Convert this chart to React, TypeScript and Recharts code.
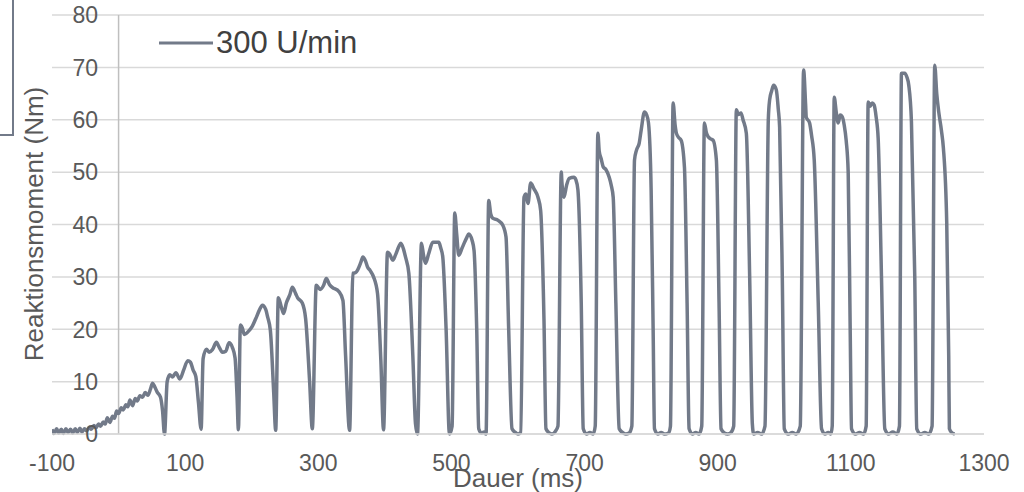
import React from "react";
import {
  LineChart,
  Line,
  XAxis,
  YAxis,
  CartesianGrid,
  ReferenceLine,
  Legend,
} from "recharts";

// Zeitachse (ms) und Reaktionsmoment (Nm), eine Zeile pro Impuls
const zeitMs = [
  -100, -97, -93, -90, -86, -83, -79, -76, -72, -69, -65, -62, -58, -55, -51, -48, -44, -41, -37, -34,
  -30, -27, -23, -20, -17, -13, -9, -6, -3, 0, 4, 7, 11, 14, 17, 21, 25, 28, 32, 36, 40, 44, 48, 51, 54, 58, 63, 66, 69,
  73, 77, 81, 86, 92, 98, 104, 108, 112, 116, 120, 124,
  127, 132, 136, 141, 147, 151, 156, 161, 166, 171, 175, 178, 180,
  183, 186, 189, 195, 201, 206, 212, 216, 221, 224, 228, 233, 236,
  240, 245, 248, 252, 257, 261, 266, 269, 276, 281, 287, 291,
  297, 300, 303, 308, 312, 317, 321, 331, 337, 341, 347,
  352, 356, 359, 364, 367, 371, 374, 378, 383, 389, 394, 398,
  404, 407, 412, 416, 421, 424, 428, 431, 436, 442, 446, 449,
  455, 458, 461, 466, 472, 481, 484, 487, 492, 497,
  501, 505, 508, 511, 516, 519, 523, 526, 531, 534, 538, 541, 545, 549, 552,
  556, 559, 562, 570, 577, 582, 586, 591, 596, 600, 604,
  609, 612, 615, 619, 624, 630, 634, 639, 642, 647, 651, 656, 660,
  665, 666, 669, 673, 677, 684, 687, 690, 695, 698, 703, 708, 713, 716,
  720, 722, 725, 728, 732, 737, 740, 743, 747, 752, 757, 762, 767, 771,
  775, 778, 782, 785, 790, 793, 796, 800, 803, 805, 810, 815, 820, 826, 829,
  833, 836, 838, 842, 845, 850, 854, 857, 862, 867, 872, 876,
  880, 883, 886, 890, 893, 898, 902, 905, 910, 915, 920, 924,
  928, 931, 935, 938, 943, 948, 952, 954, 960, 966, 971,
  976, 978, 981, 984, 988, 991, 993, 997, 1000, 1006, 1012, 1018, 1024,
  1029, 1032, 1033, 1038, 1041, 1045, 1051, 1056, 1061, 1066, 1070, 1072,
  1075, 1078, 1081, 1084, 1087, 1090, 1093, 1096, 1099, 1101, 1107, 1113, 1119, 1123,
  1126, 1129, 1132, 1135, 1138, 1141, 1146, 1151, 1157, 1163, 1169, 1173,
  1176, 1181, 1184, 1187, 1191, 1196, 1199, 1205, 1211, 1217, 1222,
  1226, 1229, 1232, 1236, 1239, 1244, 1247, 1248, 1252, 1256,
];

const momentNm = [
  0.9, 0.1, 1.0, 0.2, 0.9, 0.1, 1.0, 0.3, 0.9, 0.2, 1.0, 0.3, 1.1, 0.4, 1.0, 0.6, 1.3, 0.9, 1.6, 1.2,
  1.9, 1.5, 2.3, 1.9, 3.1, 2.2, 3.4, 3.0, 4.4, 3.9, 5.0, 4.6, 5.6, 5.2, 6.5, 5.4, 6.8, 6.3, 7.3, 7.0, 7.9, 7.4, 8.6, 9.7, 9.1, 8.0, 7.0, 4.5, 0,
  10.0, 11.3, 10.9, 11.7, 10.5, 12.3, 14.0, 13.7, 12.2, 11.0, 6.0, 0.9,
  14.4, 16.2, 15.6, 16.1, 17.5, 16.6, 15.6, 15.8, 17.4, 16.5, 14.5, 7.0, 0.8,
  20.8, 20.2, 19.0, 19.6, 20.6, 22.0, 23.8, 24.6, 23.8, 22.3, 19.8, 8.0, 0.7,
  26.0, 24.0, 23.0, 25.0, 26.5, 28.0, 26.8, 26.0, 25.0, 22.0, 10.0, 1.0,
  28.4, 28.0, 27.6, 28.4, 29.7, 28.5, 28.0, 27.2, 25.5, 15.0, 0.7,
  30.7, 30.8, 31.3, 32.8, 33.8, 33.0, 31.9, 31.2, 30.0, 26.8, 14.0, 0.8,
  34.7, 34.4, 33.2, 34.2, 35.8, 36.4, 35.3, 33.8, 30.7, 15.0, 2.0, 0.0,
  36.4, 34.2, 32.6, 34.5, 36.6, 36.6, 35.5, 33.8, 20.0, 0.0,
  1.5, 42.2, 38.0, 34.1, 35.5, 36.4, 37.5, 38.2, 37.0, 35.0, 20.0, 1.0, 0.2, 0.4, 0.0,
  44.6, 42.0, 41.2, 40.8, 39.9, 37.6, 20.0, 1.0, 0.3, 0.0, 0.3,
  45.2, 45.8, 44.0, 47.9, 46.8, 45.2, 42.7, 22.0, 1.0, 0.2, 0.0, 0.5, 1.5,
  50.0, 48.0, 45.2, 47.5, 48.8, 49.0, 48.5, 46.6, 25.0, 1.0, 0.0, 0.3, 0.0, 1.5,
  57.4, 54.0, 52.5, 51.0, 50.5, 49.0, 47.5, 45.2, 25.0, 1.0, 0.3, 0.0, 0.2, 1.5,
  52.3, 54.2, 55.5, 58.0, 61.5, 61.0, 59.4, 46.6, 20.0, 1.0, 0.0, 0.3, 0.0, 0.2, 1.5,
  63.2, 59.0, 57.4, 56.5, 56.1, 51.0, 25.0, 1.0, 0.0, 0.3, 0.0, 1.5,
  59.4, 57.5, 56.7, 56.3, 56.1, 52.3, 25.0, 1.0, 0.2, 0.0, 0.3, 1.5,
  61.9, 61.0, 61.3, 60.0, 57.4, 30.0, 2.0, 0.0, 0.3, 0.0, 1.5,
  60.0, 63.8, 65.5, 66.6, 65.7, 62.0, 58.6, 30.0, 1.0, 0.0, 0.3, 0.0, 1.5,
  69.5, 63.0, 60.5, 59.4, 57.0, 52.3, 25.0, 1.0, 0.0, 0.3, 0.0, 1.5,
  64.3, 61.5, 59.4, 60.9, 60.6, 59.0, 56.0, 50.0, 20.0, 1.0, 0.0, 0.3, 0.0, 1.5,
  63.4, 62.6, 63.2, 62.8, 60.5, 56.5, 30.0, 1.0, 0.0, 0.4, 0.0, 1.5,
  68.9, 68.9, 68.2, 66.6, 59.6, 30.0, 1.0, 0.0, 0.3, 0.0, 1.5,
  70.4, 65.0, 61.5, 58.0, 54.6, 40.4, 15.0, 1.0, 0.2, 0.0,
];

const xTicks = [-100, 100, 300, 500, 700, 900, 1100, 1300];
const yTicks = [0, 10, 20, 30, 40, 50, 60, 70, 80];
const seriesName = "300 U/min";

const FONT = "'Liberation Sans', Arial, sans-serif";
const LINE_COLOR = "#727a89";
const TEXT_COLOR = "#595959";

const data = zeitMs.map((t, i) => ({ t, v: momentNm[i] }));

const XTick = (props: any) => (
  <text x={props.x} y={471} textAnchor="middle" fontSize={23} fontFamily={FONT} fill={TEXT_COLOR}>
    {props.payload.value}
  </text>
);

const YTick = (props: any) => (
  <text x={98} y={props.y} dy="0.36em" textAnchor="end" fontSize={23} fontFamily={FONT} fill={TEXT_COLOR}>
    {props.payload.value}
  </text>
);

const LegendContent = (props: any) => (
  <div style={{ display: "flex", flexDirection: "column" }}>
    {(props.payload || []).map((entry: any) => (
      <div key={entry.value} style={{ display: "flex", alignItems: "center", height: 30 }}>
        <svg width={56} height={4} style={{ display: "block" }}>
          <line x1={1} y1={2} x2={55} y2={2} stroke={entry.color} strokeWidth={3} />
        </svg>
        <span style={{ fontFamily: FONT, fontSize: 31, lineHeight: "30px", color: "#404040", marginLeft: 2 }}>
          {entry.value}
        </span>
      </div>
    ))}
  </div>
);

export default function App() {
  return (
    <div style={{ position: "absolute", left: 0, top: 0, width: 1024, height: 492, background: "#fff" }}>
      {/* Rest eines Rahmens am linken Bildrand */}
      <div
        style={{
          position: "absolute",
          left: -10,
          top: -10,
          width: 24,
          height: 146,
          boxSizing: "border-box",
          border: `2px solid ${LINE_COLOR}`,
        }}
      />
      <LineChart width={1024} height={492} data={data} margin={{ top: 15, right: 40, bottom: 28, left: 12 }}>
        <CartesianGrid vertical={false} stroke="#d9d9d9" strokeWidth={1.5} />
        <XAxis
          type="number"
          dataKey="t"
          domain={[-100, 1300]}
          ticks={xTicks}
          allowDataOverflow
          height={30}
          tickSize={0}
          tickLine={false}
          axisLine={{ stroke: "#d9d9d9", strokeWidth: 1.5 }}
          tick={<XTick />}
          label={{
            content: () => (
              <text x={518} y={487} textAnchor="middle" fontSize={26} fontFamily={FONT} fill={TEXT_COLOR}>
                Dauer (ms)
              </text>
            ),
          }}
        />
        <YAxis
          type="number"
          domain={[0, 80]}
          ticks={yTicks}
          width={40}
          tickSize={0}
          tickLine={false}
          axisLine={false}
          tick={<YTick />}
          label={{
            content: () => (
              <text
                transform="translate(43, 224) rotate(-90)"
                textAnchor="middle"
                fontSize={26}
                fontFamily={FONT}
                fill={TEXT_COLOR}
              >
                Reaktionsmoment (Nm)
              </text>
            ),
          }}
        />
        <ReferenceLine x={0} stroke="#bfbfbf" strokeWidth={1.5} />
        <Legend
          layout="horizontal"
          verticalAlign="middle"
          align="center"
          content={<LegendContent />}
          wrapperStyle={{ left: 158, top: 28, width: "auto" }}
        />
        <Line
          type="monotone"
          dataKey="v"
          name={seriesName}
          stroke={LINE_COLOR}
          strokeWidth={3.5}
          strokeLinejoin="round"
          dot={false}
          activeDot={false}
          isAnimationActive={false}
        />
      </LineChart>
    </div>
  );
}
